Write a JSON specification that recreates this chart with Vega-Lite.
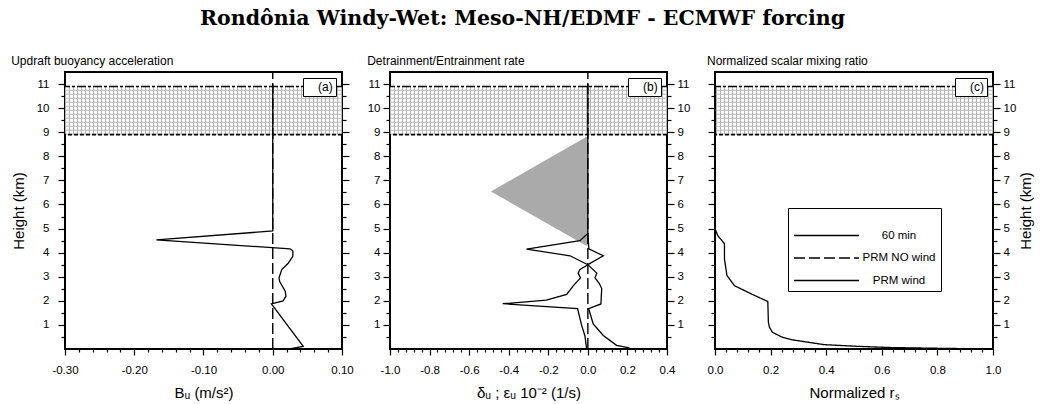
{
  "$schema": "https://vega.github.io/schema/vega-lite/v6.json",
  "padding": {"left": 10, "top": 8, "right": 2, "bottom": 0},
  "background": "white",
  "title": {"text": "Rondônia Windy-Wet: Meso-NH/EDMF - ECMWF forcing", "font": "DejaVu Serif", "fontSize": 20.5, "fontWeight": "bold", "color": "black", "anchor": "middle", "offset": 25},
  "datasets": {
    "band": [{"lo": 8.9, "hi": 10.9}],
    "zero": [{"h": 0, "v": 0}, {"h": 11.5, "v": 0}],
    "a_wind": [
      {"h": 0.0, "v": 0.024}, {"h": 0.11, "v": 0.044}, {"h": 1.8, "v": 0.0}, {"h": 1.87, "v": -0.002},
      {"h": 2.0, "v": 0.015}, {"h": 2.2, "v": 0.019}, {"h": 2.4, "v": 0.018}, {"h": 2.8, "v": 0.01},
      {"h": 2.95, "v": 0.009}, {"h": 3.3, "v": 0.013}, {"h": 3.55, "v": 0.022}, {"h": 3.85, "v": 0.029},
      {"h": 4.08, "v": 0.029}, {"h": 4.16, "v": 0.025}, {"h": 4.53, "v": -0.168}, {"h": 4.9, "v": 0.0},
      {"h": 11.0, "v": 0.0}
    ],
    "b_delta": [
      {"h": 0.0, "v": -0.006}, {"h": 0.55, "v": -0.015}, {"h": 0.97, "v": -0.031}, {"h": 1.68, "v": -0.052},
      {"h": 1.88, "v": -0.43}, {"h": 2.03, "v": -0.21}, {"h": 2.27, "v": -0.107}, {"h": 2.63, "v": -0.073},
      {"h": 2.95, "v": -0.037}, {"h": 3.15, "v": -0.049}, {"h": 3.3, "v": -0.04}, {"h": 3.5, "v": 0.0},
      {"h": 3.87, "v": -0.09}, {"h": 4.15, "v": -0.31}, {"h": 4.5, "v": -0.04}, {"h": 4.8, "v": 0.0},
      {"h": 11.0, "v": 0.0}
    ],
    "b_eps": [
      {"h": 0.05, "v": 0.21}, {"h": 0.15, "v": 0.145}, {"h": 0.56, "v": 0.078}, {"h": 1.04, "v": 0.027},
      {"h": 1.68, "v": 0.004}, {"h": 1.87, "v": 0.066}, {"h": 2.51, "v": 0.07}, {"h": 2.72, "v": 0.058},
      {"h": 2.95, "v": 0.036}, {"h": 3.15, "v": 0.045}, {"h": 3.5, "v": 0.0}, {"h": 3.87, "v": 0.078},
      {"h": 4.16, "v": 0.005}, {"h": 4.8, "v": 0.0}
    ],
    "b_les": [{"h": 4.3, "v": -0.01}, {"h": 6.54, "v": -0.49}, {"h": 8.84, "v": 0.0}],
    "c_wind": [
      {"h": 0.0, "v": 1.0}, {"h": 0.03, "v": 0.8}, {"h": 0.06, "v": 0.633}, {"h": 0.11, "v": 0.513},
      {"h": 0.18, "v": 0.393}, {"h": 0.39, "v": 0.273}, {"h": 0.5, "v": 0.24}, {"h": 0.69, "v": 0.207},
      {"h": 0.9, "v": 0.196}, {"h": 1.11, "v": 0.192}, {"h": 1.97, "v": 0.19}, {"h": 2.29, "v": 0.13},
      {"h": 2.63, "v": 0.07}, {"h": 3.05, "v": 0.043}, {"h": 3.74, "v": 0.034}, {"h": 4.37, "v": 0.034},
      {"h": 4.71, "v": 0.01}, {"h": 5.0, "v": 0.0}, {"h": 11.0, "v": 0.0}
    ]
  },
  "hconcat": [
    {
      "width": 277, "height": 277,
      "title": {"text": "Updraft buoyancy acceleration", "anchor": "start", "fontSize": 12, "font": "Liberation Sans", "fontWeight": "normal", "color": "black", "offset": 1},
      "resolve": {"axis": {"y": "independent"}},
      "layer": [
        {"data": {"name": "band"}, "mark": {"type": "rule", "strokeWidth": 277, "strokeDash": [1, 3], "color": "#b5b5b5", "clip": true},
         "encoding": {
           "x": {"datum": -0.1, "type": "quantitative", "scale": {"domain": [-0.3, 0.1], "nice": false, "zero": false},
                 "axis": {"orient": "bottom", "title": "Bᵤ (m/s²)", "labelOverlap": false, "tickCount": 200,
                          "values": [-0.3,-0.28,-0.26,-0.24,-0.22,-0.2,-0.18,-0.16,-0.14,-0.12,-0.1,-0.08,-0.06,-0.04,-0.02,0,0.02,0.04,0.06,0.08,0.1],
                          "labelExpr": "abs(datum.value*10-round(datum.value*10))<0.001 ? replace(format(datum.value,'.2f'),'\u2212','-') : ''",
                          "tickSize": 6,
                          "tickDash": {"condition": {"test": "abs(datum.value*10-round(datum.value*10))<0.001", "value": [1, 0]}, "value": [3, 20]},
                          "labelPadding": 9, "titlePadding": 10}},
           "y": {"field": "lo", "type": "quantitative", "scale": {"domain": [0, 11.5], "nice": false, "zero": false},
                 "axis": {"orient": "left", "title": "Height (km)",
                          "values": [0.5,1,1.5,2,2.5,3,3.5,4,4.5,5,5.5,6,6.5,7,7.5,8,8.5,9,9.5,10,10.5,11],
                          "labelExpr": "datum.value % 1 == 0 ? format(datum.value,'d') : ''",
                          "tickSize": {"condition": {"test": "datum.value % 1 == 0", "value": 7}, "value": 4},
                          "labelPadding": 9, "titlePadding": 10}},
           "y2": {"field": "hi"}}},
        {"data": {"name": "band"}, "mark": {"type": "rule", "strokeWidth": 48.17, "strokeDash": [1, 3], "color": "#b5b5b5", "clip": true},
         "encoding": {"y": {"datum": 9.9, "type": "quantitative", "scale": {"domain": [0, 11.5], "nice": false, "zero": false}, "axis": null}}},
        {"data": {"name": "band"}, "mark": {"type": "rule", "strokeWidth": 1.5, "strokeDash": [9, 2, 3, 2], "color": "black"},
         "encoding": {"y": {"field": "hi", "type": "quantitative", "scale": {"domain": [0, 11.5], "nice": false, "zero": false}, "axis": null}}},
        {"data": {"name": "band"}, "mark": {"type": "rule", "strokeWidth": 1.8, "strokeDash": [4, 2], "color": "black"},
         "encoding": {"y": {"field": "lo", "type": "quantitative", "scale": {"domain": [0, 11.5], "nice": false, "zero": false}, "axis": null}}},
        {"data": {"name": "zero"}, "mark": {"type": "line", "strokeWidth": 1.4, "strokeDash": [11, 4], "color": "black"},
         "encoding": {
           "x": {"field": "v", "type": "quantitative", "scale": {"domain": [-0.3, 0.1], "nice": false, "zero": false}},
           "y": {"field": "h", "type": "quantitative", "scale": {"domain": [0, 11.5], "nice": false, "zero": false},
                 "axis": {"orient": "right", "title": null, "labels": false,
                          "values": [0.5,1,1.5,2,2.5,3,3.5,4,4.5,5,5.5,6,6.5,7,7.5,8,8.5,9,9.5,10,10.5,11],
                          "tickSize": {"condition": {"test": "datum.value % 1 == 0", "value": 7}, "value": 4}}},
           "order": {"field": "h"},
           "opacity": {"datum": "(a)", "type": "ordinal", "scale": {"range": [1, 1]},
                       "legend": {"orient": "top-right", "offset": 6, "title": null, "symbolSize": 0, "symbolOpacity": 0, "symbolStrokeWidth": 0, "labelOffset": 0, "labelFontSize": 12, "labelFont": "Liberation Sans", "labelColor": "black", "strokeColor": "black", "fillColor": "white", "padding": 3}}}},
        {"data": {"name": "a_wind"}, "mark": {"type": "line", "strokeWidth": 1.3, "color": "black"},
         "encoding": {
           "x": {"field": "v", "type": "quantitative", "scale": {"domain": [-0.3, 0.1], "nice": false, "zero": false}},
           "y": {"field": "h", "type": "quantitative", "scale": {"domain": [0, 11.5], "nice": false, "zero": false}, "axis": null},
           "order": {"field": "h"}}}
      ]
    },
    {
      "width": 277, "height": 277,
      "title": {"text": "Detrainment/Entrainment rate", "anchor": "start", "fontSize": 12, "font": "Liberation Sans", "fontWeight": "normal", "color": "black", "offset": 1},
      "resolve": {"axis": {"y": "independent"}},
      "layer": [
        {"data": {"name": "band"}, "mark": {"type": "rule", "strokeWidth": 277, "strokeDash": [1, 3], "color": "#b5b5b5", "clip": true},
         "encoding": {
           "x": {"datum": -0.3, "type": "quantitative", "scale": {"domain": [-1.0, 0.4], "nice": false, "zero": false},
                 "axis": {"orient": "bottom", "title": "δᵤ ; εᵤ 10⁻² (1/s)", "labelOverlap": false, "tickCount": 200,
                          "values": [-1,-0.96,-0.92,-0.88,-0.84,-0.8,-0.76,-0.72,-0.68,-0.64,-0.6,-0.56,-0.52,-0.48,-0.44,-0.4,-0.36,-0.32,-0.28,-0.24,-0.2,-0.16,-0.12,-0.08,-0.04,0,0.04,0.08,0.12,0.16,0.2,0.24,0.28,0.32,0.36,0.4],
                          "labelExpr": "abs(datum.value*5-round(datum.value*5))<0.001 ? replace(format(datum.value,'.1f'),'\u2212','-') : ''",
                          "tickSize": 6,
                          "tickDash": {"condition": {"test": "abs(datum.value*5-round(datum.value*5))<0.001", "value": [1, 0]}, "value": [3, 20]},
                          "labelPadding": 9, "titlePadding": 10}},
           "y": {"field": "lo", "type": "quantitative", "scale": {"domain": [0, 11.5], "nice": false, "zero": false},
                 "axis": {"orient": "left", "title": null,
                          "values": [0.5,1,1.5,2,2.5,3,3.5,4,4.5,5,5.5,6,6.5,7,7.5,8,8.5,9,9.5,10,10.5,11],
                          "labelExpr": "datum.value % 1 == 0 ? format(datum.value,'d') : ''",
                          "tickSize": {"condition": {"test": "datum.value % 1 == 0", "value": 7}, "value": 4},
                          "labelPadding": 3}},
           "y2": {"field": "hi"}}},
        {"data": {"name": "band"}, "mark": {"type": "rule", "strokeWidth": 48.17, "strokeDash": [1, 3], "color": "#b5b5b5", "clip": true},
         "encoding": {"y": {"datum": 9.9, "type": "quantitative", "scale": {"domain": [0, 11.5], "nice": false, "zero": false}, "axis": null}}},
        {"data": {"name": "band"}, "mark": {"type": "rule", "strokeWidth": 1.5, "strokeDash": [9, 2, 3, 2], "color": "black"},
         "encoding": {"y": {"field": "hi", "type": "quantitative", "scale": {"domain": [0, 11.5], "nice": false, "zero": false}, "axis": null}}},
        {"data": {"name": "band"}, "mark": {"type": "rule", "strokeWidth": 1.8, "strokeDash": [4, 2], "color": "black"},
         "encoding": {"y": {"field": "lo", "type": "quantitative", "scale": {"domain": [0, 11.5], "nice": false, "zero": false}, "axis": null}}},
        {"data": {"name": "b_les"}, "mark": {"type": "area", "orient": "horizontal", "color": "#aaaaaa", "opacity": 1},
         "encoding": {
           "x": {"field": "v", "type": "quantitative", "scale": {"domain": [-1.0, 0.4], "nice": false, "zero": false}},
           "x2": {"datum": 0},
           "y": {"field": "h", "type": "quantitative", "scale": {"domain": [0, 11.5], "nice": false, "zero": false}, "axis": null}}},
        {"data": {"name": "zero"}, "mark": {"type": "line", "strokeWidth": 1.4, "strokeDash": [11, 4], "color": "black"},
         "encoding": {
           "x": {"field": "v", "type": "quantitative", "scale": {"domain": [-1.0, 0.4], "nice": false, "zero": false}},
           "y": {"field": "h", "type": "quantitative", "scale": {"domain": [0, 11.5], "nice": false, "zero": false},
                 "axis": {"orient": "right", "title": null,
                          "values": [0.5,1,1.5,2,2.5,3,3.5,4,4.5,5,5.5,6,6.5,7,7.5,8,8.5,9,9.5,10,10.5,11],
                          "labelExpr": "datum.value % 1 == 0 ? format(datum.value,'d') : ''",
                          "tickSize": {"condition": {"test": "datum.value % 1 == 0", "value": 7}, "value": 4},
                          "labelPadding": 3}},
           "order": {"field": "h"},
           "opacity": {"datum": "(b)", "type": "ordinal", "scale": {"range": [1, 1]},
                       "legend": {"orient": "top-right", "offset": 6, "title": null, "symbolSize": 0, "symbolOpacity": 0, "symbolStrokeWidth": 0, "labelOffset": 0, "labelFontSize": 12, "labelFont": "Liberation Sans", "labelColor": "black", "strokeColor": "black", "fillColor": "white", "padding": 3}}}},
        {"data": {"name": "b_delta"}, "mark": {"type": "line", "strokeWidth": 1.3, "color": "black"},
         "encoding": {
           "x": {"field": "v", "type": "quantitative", "scale": {"domain": [-1.0, 0.4], "nice": false, "zero": false}},
           "y": {"field": "h", "type": "quantitative", "scale": {"domain": [0, 11.5], "nice": false, "zero": false}, "axis": null},
           "order": {"field": "h"}}},
        {"data": {"name": "b_eps"}, "mark": {"type": "line", "strokeWidth": 1.3, "color": "black"},
         "encoding": {
           "x": {"field": "v", "type": "quantitative", "scale": {"domain": [-1.0, 0.4], "nice": false, "zero": false}},
           "y": {"field": "h", "type": "quantitative", "scale": {"domain": [0, 11.5], "nice": false, "zero": false}, "axis": null},
           "order": {"field": "h"}}}
      ]
    },
    {
      "width": 278, "height": 277,
      "title": {"text": "Normalized scalar mixing ratio", "anchor": "start", "fontSize": 12, "font": "Liberation Sans", "fontWeight": "normal", "color": "black", "offset": 1},
      "resolve": {"axis": {"y": "independent"}},
      "layer": [
        {"data": {"name": "band"}, "mark": {"type": "rule", "strokeWidth": 278, "strokeDash": [1, 3], "color": "#b5b5b5", "clip": true},
         "encoding": {
           "x": {"datum": 0.5, "type": "quantitative", "scale": {"domain": [0, 1], "nice": false, "zero": false},
                 "axis": {"orient": "bottom", "title": "Normalized rₛ", "labelOverlap": false, "tickCount": 200,
                          "values": [0,0.04,0.08,0.12,0.16,0.2,0.24,0.28,0.32,0.36,0.4,0.44,0.48,0.52,0.56,0.6,0.64,0.68,0.72,0.76,0.8,0.84,0.88,0.92,0.96,1],
                          "labelExpr": "abs(datum.value*5-round(datum.value*5))<0.001 ? format(datum.value,'.1f') : ''",
                          "tickSize": 6,
                          "tickDash": {"condition": {"test": "abs(datum.value*5-round(datum.value*5))<0.001", "value": [1, 0]}, "value": [3, 20]},
                          "labelPadding": 9, "titlePadding": 10}},
           "y": {"field": "lo", "type": "quantitative", "scale": {"domain": [0, 11.5], "nice": false, "zero": false},
                 "axis": {"orient": "left", "title": null, "labels": false,
                          "values": [0.5,1,1.5,2,2.5,3,3.5,4,4.5,5,5.5,6,6.5,7,7.5,8,8.5,9,9.5,10,10.5,11],
                          "tickSize": {"condition": {"test": "datum.value % 1 == 0", "value": 7}, "value": 4}}},
           "y2": {"field": "hi"}}},
        {"data": {"name": "band"}, "mark": {"type": "rule", "strokeWidth": 48.17, "strokeDash": [1, 3], "color": "#b5b5b5", "clip": true},
         "encoding": {"y": {"datum": 9.9, "type": "quantitative", "scale": {"domain": [0, 11.5], "nice": false, "zero": false}, "axis": null}}},
        {"data": {"name": "band"}, "mark": {"type": "rule", "strokeWidth": 1.5, "strokeDash": [9, 2, 3, 2], "color": "black"},
         "encoding": {"y": {"field": "hi", "type": "quantitative", "scale": {"domain": [0, 11.5], "nice": false, "zero": false}, "axis": null}}},
        {"data": {"name": "band"}, "mark": {"type": "rule", "strokeWidth": 1.8, "strokeDash": [4, 2], "color": "black"},
         "encoding": {"y": {"field": "lo", "type": "quantitative", "scale": {"domain": [0, 11.5], "nice": false, "zero": false}, "axis": null}}},
        {"data": {"name": "zero"}, "mark": {"type": "line", "strokeWidth": 1.4, "strokeDash": [11, 4], "color": "black"},
         "encoding": {
           "x": {"field": "v", "type": "quantitative", "scale": {"domain": [0, 1], "nice": false, "zero": false}},
           "y": {"field": "h", "type": "quantitative", "scale": {"domain": [0, 11.5], "nice": false, "zero": false},
                 "axis": {"orient": "right", "title": "Height (km)", "titleAngle": 270,
                          "values": [0.5,1,1.5,2,2.5,3,3.5,4,4.5,5,5.5,6,6.5,7,7.5,8,8.5,9,9.5,10,10.5,11],
                          "labelExpr": "datum.value % 1 == 0 ? format(datum.value,'d') : ''",
                          "tickSize": {"condition": {"test": "datum.value % 1 == 0", "value": 7}, "value": 4},
                          "labelPadding": 3, "titlePadding": 18}},
           "order": {"field": "h"},
           "opacity": {"datum": "(c)", "type": "ordinal", "scale": {"range": [1, 1]},
                       "legend": {"orient": "top-right", "offset": 6, "title": null, "symbolSize": 0, "symbolOpacity": 0, "symbolStrokeWidth": 0, "labelOffset": 0, "labelFontSize": 12, "labelFont": "Liberation Sans", "labelColor": "black", "strokeColor": "black", "fillColor": "white", "padding": 3}}}},
        {"data": {"name": "c_wind"}, "mark": {"type": "line", "strokeWidth": 1.3, "color": "black"},
         "encoding": {
           "x": {"field": "v", "type": "quantitative", "scale": {"domain": [0, 1], "nice": false, "zero": false}},
           "y": {"field": "h", "type": "quantitative", "scale": {"domain": [0, 11.5], "nice": false, "zero": false}, "axis": null},
           "order": {"field": "h"},
           "strokeDash": {"datum": "PRM wind", "type": "nominal",
                          "scale": {"domain": ["60 min", "PRM NO wind", "PRM wind"], "range": [[1, 0], [11, 4], [1, 0]]},
                          "legend": {"orient": "none", "legendX": 73, "legendY": 136, "title": " ", "titleFontSize": 10, "titlePadding": 5, "symbolType": "M-1,0H9", "symbolSize": 169, "symbolStrokeWidth": 1.5, "symbolStrokeColor": "black", "labelAlign": "center", "labelOffset": 91, "labelFontSize": 11.5, "labelFont": "Liberation Sans", "labelColor": "black", "strokeColor": "black", "fillColor": "white", "padding": 5, "rowPadding": 9.5}}}}
      ]
    }
  ],
  "spacing": 48,
  "bounds": "flush",
  "resolve": {"scale": {"opacity": "independent", "strokeDash": "independent"}, "legend": {"opacity": "independent", "strokeDash": "independent"}},
  "config": {
    "view": {"stroke": "black", "strokeWidth": 2},
    "axis": {"domain": false, "grid": false, "tickColor": "black", "tickWidth": 1.2, "labelColor": "black", "labelFont": "Liberation Sans", "labelFontSize": 11.5, "titleFont": "Liberation Sans", "titleFontSize": 15, "titleFontWeight": "normal", "titleColor": "black", "labelFlush": false, "labelOverlap": false, "labelBound": false},
    "legend": {"labelFont": "Liberation Sans"}
  }
}
